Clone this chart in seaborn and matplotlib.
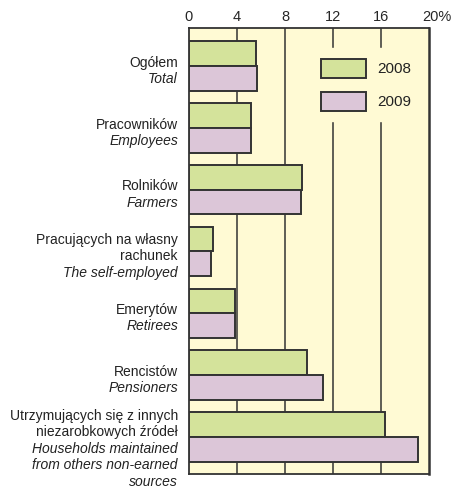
import matplotlib
matplotlib.use("Agg")
import matplotlib.pyplot as plt
import matplotlib.transforms as mtransforms
import numpy as np
import pandas as pd
import seaborn as sns

# category labels: polish (normal) + english (italic)
labels_pl = [
    ["Ogółem"],
    ["Pracowników"],
    ["Rolników"],
    ["Pracujących na własny", "rachunek"],
    ["Emerytów"],
    ["Rencistów"],
    ["Utrzymujących się z innych", "niezarobkowych źródeł"],
]
labels_en = [
    ["Total"],
    ["Employees"],
    ["Farmers"],
    ["The self-employed"],
    ["Retirees"],
    ["Pensioners"],
    ["Households maintained", "from others non-earned", "sources"],
]
keys = ["Ogółem", "Pracowników", "Rolników", "Pracujących", "Emerytów", "Rencistów", "Utrzymujących"]
years = ["2008", "2009"]
vals_2008 = [5.6, 5.2, 9.4, 2.0, 3.8, 9.8, 16.3]
vals_2009 = [5.7, 5.2, 9.3, 1.8, 3.8, 11.2, 19.1]
xticks = [0, 4, 8, 12, 16, 20]
xtick_labels = ["0", "4", "8", "12", "16", "20%"]

df = pd.DataFrame({
    "cat": keys * 2,
    "year": [years[0]] * len(keys) + [years[1]] * len(keys),
    "value": vals_2008 + vals_2009,
})

sns.set_style("white")
plt.rcParams["font.family"] = ["Liberation Sans", "DejaVu Sans"]

edge = "#333333"
bg = "#fffad4"
palette = {"2008": "#d4e39b", "2009": "#dcc6d8"}
fs = 10

fig = plt.figure(figsize=(4.52, 4.87), dpi=100)
ax = fig.add_axes([189 / 452, 1 - 474 / 487, 240 / 452, 446 / 487])
ax.set_facecolor(bg)

sns.barplot(data=df, x="value", y="cat", hue="year", order=keys, hue_order=years,
            palette=palette, edgecolor=edge, linewidth=1.4, width=0.8,
            saturation=1, orient="h", ax=ax, zorder=3)

for x in xticks[1:-1]:
    ax.axvline(x, color=edge, lw=1.1, zorder=1)

ax.set_xlim(0, 20)
ax.set_ylim(6.6, -0.615)
ax.set_xticks(xticks)
ax.set_xticklabels(xtick_labels, fontsize=fs + 0.5)
ax.xaxis.tick_top()
ax.tick_params(axis="x", length=0, pad=3)
# "20%" : keep the number centred on the tick, the % hangs to the right
last = ax.get_xticklabels()[-1]
last.set_horizontalalignment("left")
last.set_transform(last.get_transform() + mtransforms.ScaledTranslation(-7 / 100, 0, fig.dpi_scale_trans))
ax.set_yticks([])
ax.set_xlabel("")
ax.set_ylabel("")
for s in ax.spines.values():
    s.set_color(edge)
    s.set_linewidth(1.3)
ax.spines["right"].set_linewidth(1.8)

# two-language category labels on the left
trans = mtransforms.blended_transform_factory(fig.transFigure, ax.transData)
step = 0.266
for i in range(len(keys)):
    lines = [(t, "normal") for t in labels_pl[i]] + [(t, "italic") for t in labels_en[i]]
    n = len(lines)
    off = 0.19 if n > 4 else 0.08
    for j, (t, st) in enumerate(lines):
        y = i + off + (j - (n - 1) / 2) * step
        ax.text(178 / 452, y, t, transform=trans, ha="right", va="center",
                fontsize=fs, style=st, color="#222222")

leg = ax.legend(loc="upper left", bbox_to_anchor=(0.504, 0.955), frameon=True,
                facecolor=bg, edgecolor=bg, framealpha=1, fontsize=fs + 1,
                handlelength=3.0, handleheight=1.55, labelspacing=0.9,
                handletextpad=0.7, borderpad=0.7, borderaxespad=0)
leg.set_zorder(2)
for t in leg.get_texts():
    t.set_color("#222222")

fig.savefig("out.png", dpi=100)
